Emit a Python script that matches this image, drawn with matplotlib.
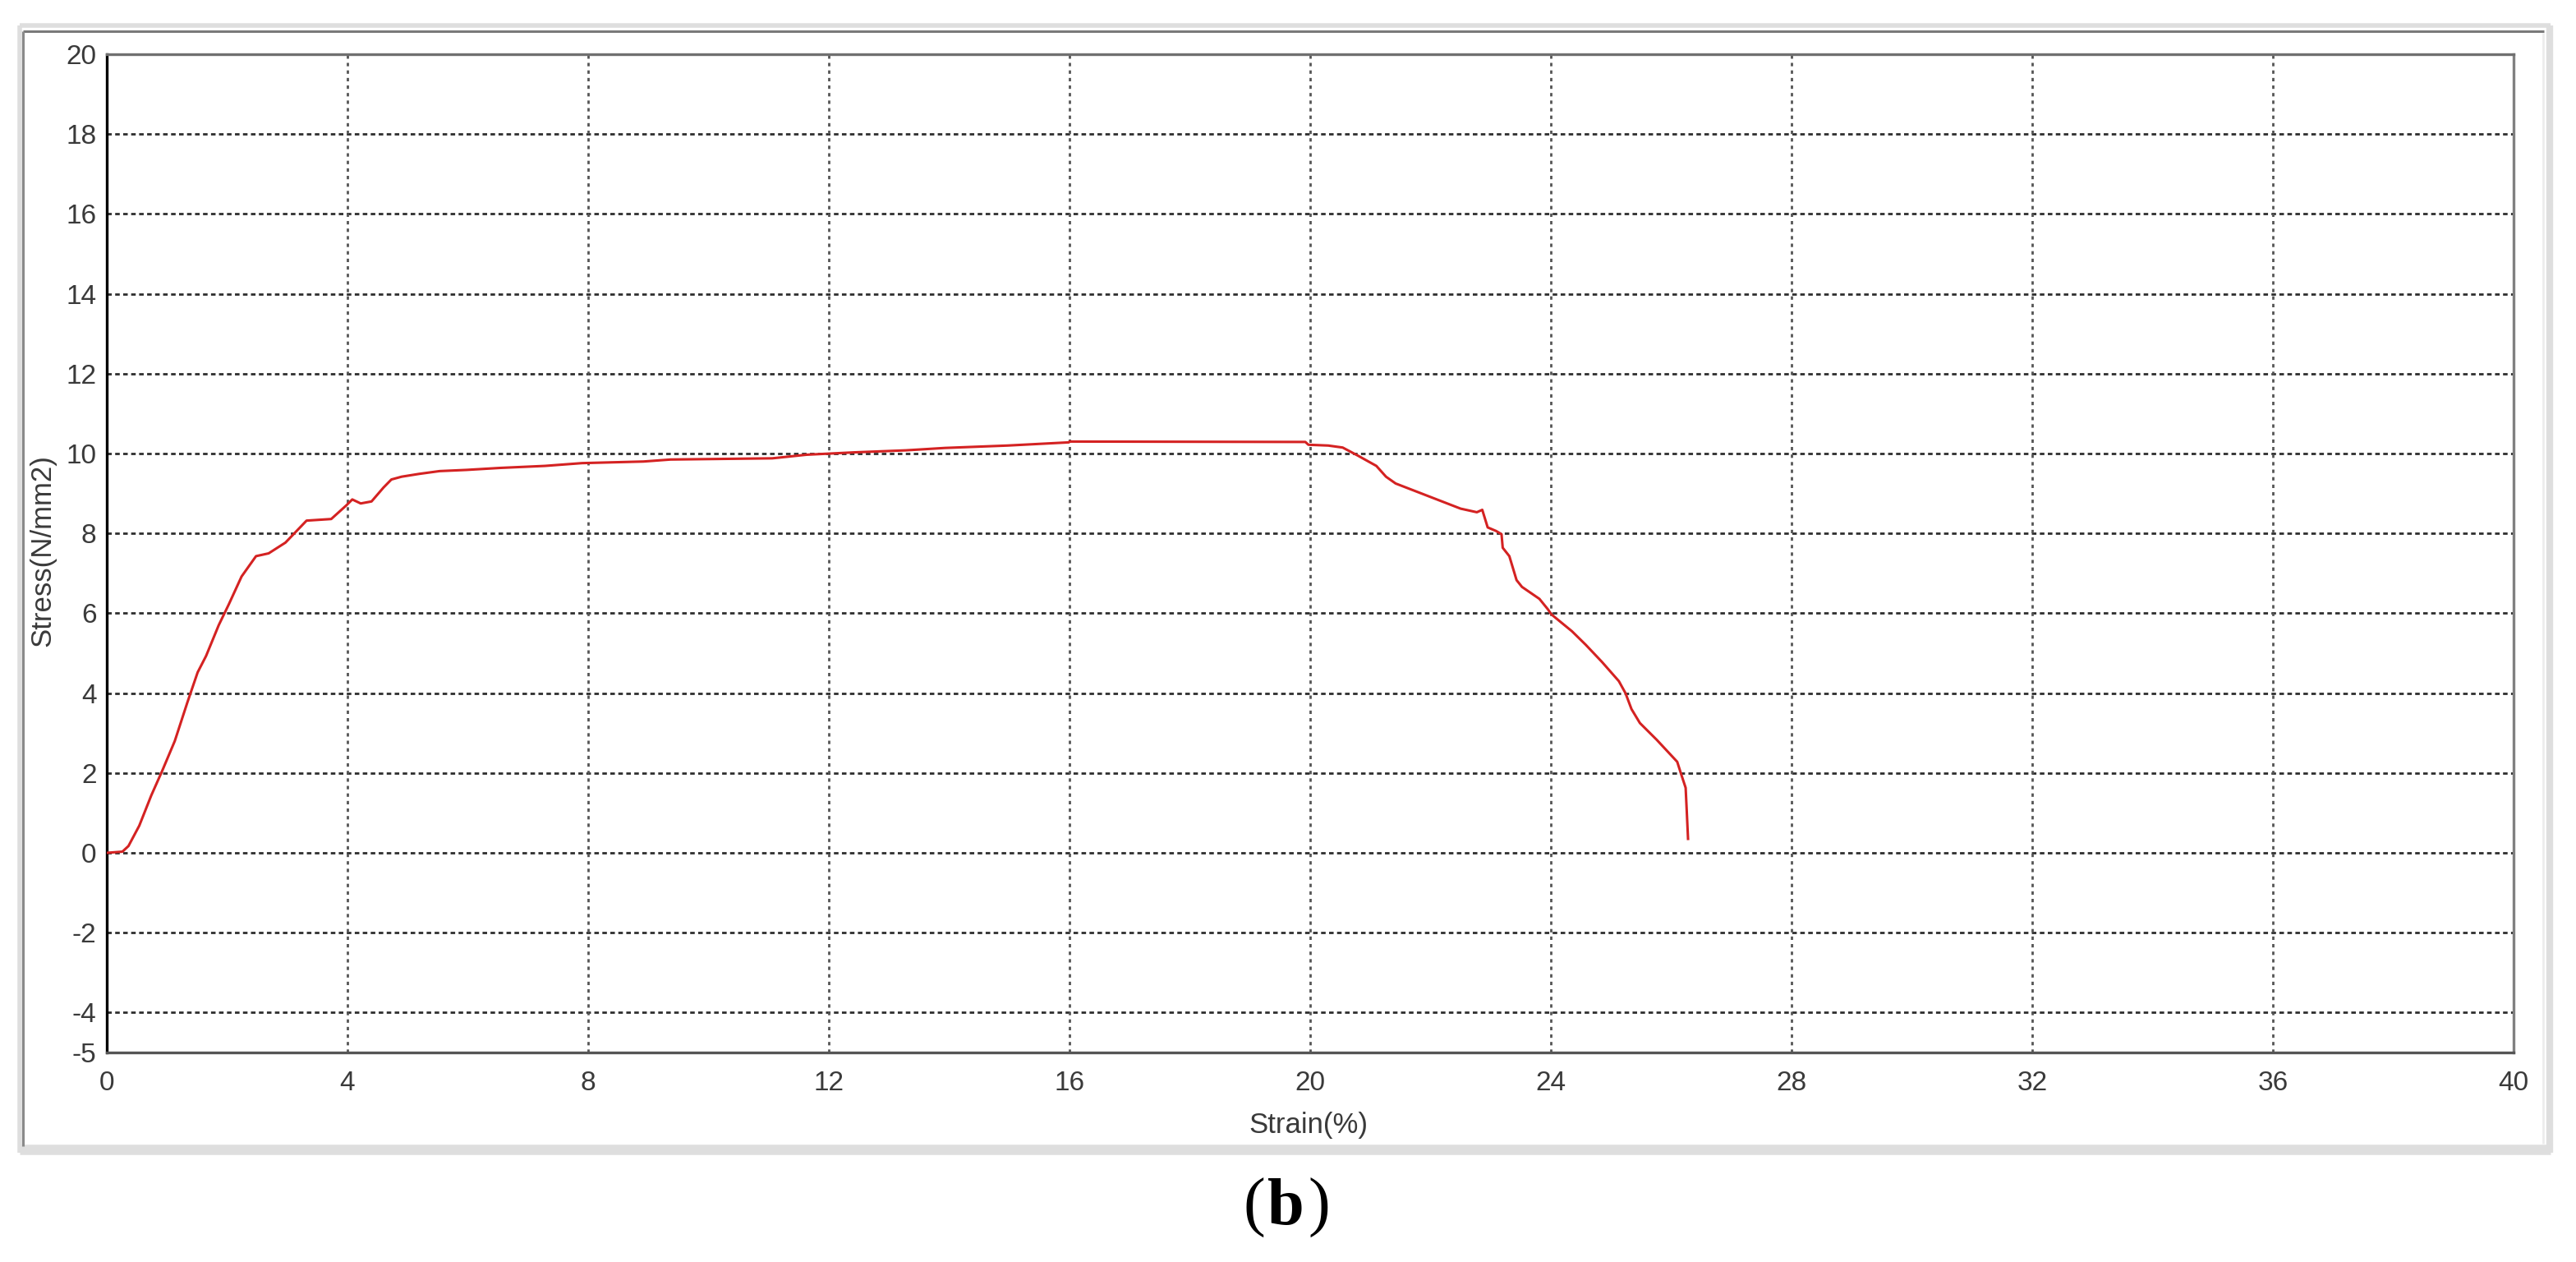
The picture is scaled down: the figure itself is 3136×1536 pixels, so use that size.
import matplotlib
matplotlib.use("Agg")
import matplotlib.pyplot as plt
from matplotlib.lines import Line2D

# strain (%) / stress (N/mm2)
strain = [0, 0.26, 0.36, 0.54, 0.74, 0.92, 1.13, 1.34, 1.51, 1.65, 1.86, 2.03, 2.24, 2.48, 2.69, 2.97,
          3.32, 3.73, 3.98, 4.08, 4.22, 4.4, 4.6, 4.73, 4.9, 5.19, 5.53, 5.98, 6.54, 7.28, 7.9, 8.92,
          9.37, 11.06, 11.63, 12.43, 13.28, 13.93, 14.97, 15.99, 16.0, 19.92, 19.97, 20.3, 20.54,
          20.79, 21.1, 21.26, 21.42, 21.78, 22.14, 22.5, 22.77, 22.86, 22.95, 23.09, 23.18, 23.2,
          23.31, 23.43, 23.52, 23.81, 23.95, 24.01, 24.35, 24.58, 24.85, 25.13, 25.24, 25.34, 25.48,
          25.76, 26.1, 26.17, 26.24, 26.26, 26.28]
stress = [0, 0.03, 0.17, 0.68, 1.44, 2.05, 2.8, 3.77, 4.52, 4.93, 5.7, 6.23, 6.92, 7.43, 7.5, 7.77,
          8.32, 8.36, 8.7, 8.85, 8.75, 8.8, 9.15, 9.35, 9.42, 9.49, 9.56, 9.59, 9.64, 9.69, 9.76, 9.8,
          9.85, 9.88, 9.97, 10.03, 10.08, 10.14, 10.2, 10.28, 10.3, 10.29, 10.22, 10.2, 10.15,
          9.95, 9.69, 9.42, 9.25, 9.04, 8.83, 8.62, 8.53, 8.59, 8.15, 8.06, 7.98, 7.64,
          7.43, 6.83, 6.66, 6.36, 6.1, 5.97, 5.55, 5.21, 4.78, 4.3, 4.0, 3.6, 3.25,
          2.83, 2.28, 1.95, 1.63, 1.0, 0.35]
xticks = [0, 4, 8, 12, 16, 20, 24, 28, 32, 36, 40]
yticks = [-5, -4, -2, 0, 2, 4, 6, 8, 10, 12, 14, 16, 18, 20]
xlab = "Strain(%)"
ylab = "Stress(N/mm2)"

W, H = 3136, 1536
plt.rcParams["font.family"] = ["Liberation Sans", "DejaVu Sans"]
plt.rcParams["axes.unicode_minus"] = False
fig = plt.figure(figsize=(W / 100, H / 100), dpi=100)
fig.patch.set_facecolor("white")

def fx(px): return px / W
def fy(py): return 1 - py / H

# outer window frame
def fl(x0, y0, x1, y1, c, lw):
    fig.add_artist(Line2D([fx(x0), fx(x1)], [fy(y0), fy(y1)], transform=fig.transFigure, color=c, lw=lw,
                          solid_capstyle="butt"))
fl(24, 31, 3105, 31, "#dedede", 4)
fl(24, 1399, 3105, 1399, "#dedede", 9)
fl(24, 31, 24, 1403, "#dedede", 4)
fl(3104, 31, 3104, 1403, "#dedede", 6)
fl(28, 38, 3097, 38, "#7a7a7a", 2.2)
fl(28, 38, 28, 1395, "#8a8a8a", 2.2)
fl(3096, 40, 3096, 1392, "#ececec", 2)

ax = fig.add_axes([fx(130), fy(1281), fx(3060) - fx(130), fy(66) - fy(1281)])
ax.set_xlim(0, 40)
ax.set_ylim(-5, 20)
ax.set_xticks(xticks)
ax.set_yticks(yticks)
ax.tick_params(length=0, labelsize=24, labelcolor="#3a3a3a")
ax.tick_params(axis="x", pad=16)
ax.tick_params(axis="y", pad=9)

for y in yticks:
    if -5 < y < 20:
        ax.axhline(y, color="#2e2e2e", lw=2.0, ls=(0, (2.0, 1.5)), zorder=1)
for x in xticks:
    if 0 < x < 40:
        ax.axvline(x, color="#555555", lw=2.0, ls=(0, (1.5, 1.8)), zorder=1)

ax.plot(strain, stress, color="#d42222", lw=2.2, zorder=3, solid_joinstyle="round")

ax.spines["left"].set_color("#000000")
ax.spines["bottom"].set_color("#555555")
ax.spines["top"].set_color("#707070")
ax.spines["right"].set_color("#808080")
for s in ax.spines.values():
    s.set_linewidth(2.4)

fig.text(fx(1593), fy(1370), xlab, fontsize=25, color="#3a3a3a", ha="center", va="center")
fig.text(fx(52), fy(670), ylab, fontsize=25, color="#3a3a3a", ha="center", va="center", rotation=90)

# caption (b)
cap = dict(fontsize=58, color="black", va="baseline", family=["Liberation Serif", "DejaVu Serif"])
fig.text(fx(1565), fy(1490), "b", ha="center", fontweight="bold", **cap)
fig.text(fx(1540), fy(1490), "(", ha="right", **cap)
fig.text(fx(1592), fy(1490), ")", ha="left", **cap)

fig.savefig("out.png", dpi=100, facecolor="white")
